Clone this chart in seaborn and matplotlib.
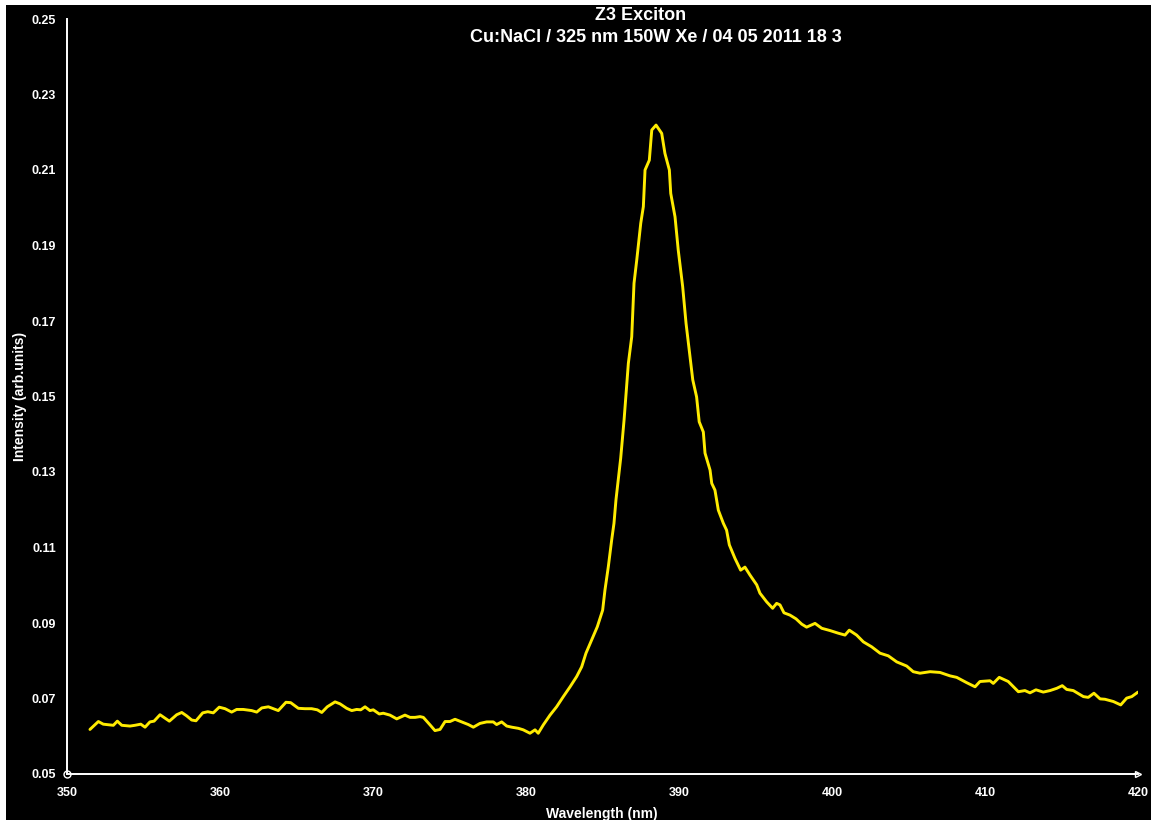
import seaborn as sns
import matplotlib.pyplot as plt
import matplotlib.patches as patches
import pandas as pd

# Espectro
comprimento_onda = [
    351.50, 352.05, 352.37, 353.03, 353.29, 353.58, 354.12, 354.44, 354.82, 355.10,
    355.42, 355.69, 356.08, 356.69, 357.17, 357.50, 357.82, 358.15, 358.43, 358.87,
    359.20, 359.56, 359.95, 360.33, 360.76, 361.09, 361.52, 362.07, 362.40, 362.73,
    363.16, 363.48, 363.81, 364.31, 364.62, 365.12, 365.56, 365.99, 366.36, 366.65,
    367.01, 367.52, 367.84, 368.28, 368.61, 368.93, 369.20, 369.48, 369.80, 370.02,
    370.41, 370.67, 371.11, 371.55, 372.09, 372.42, 372.75, 373.07, 373.29, 373.73,
    374.05, 374.38, 374.71, 375.03, 375.36, 375.80, 376.23, 376.56, 376.99, 377.43,
    377.86, 378.08, 378.41, 378.74, 379.07, 379.50, 379.82, 380.26, 380.59, 380.80,
    381.13, 381.57, 382.00, 382.44, 382.88, 383.31, 383.64, 383.92, 384.29, 384.66,
    385.01, 385.16, 385.38, 385.60, 385.75, 385.88, 386.03, 386.19, 386.41, 386.69,
    386.91, 387.06, 387.24, 387.50, 387.67, 387.78, 388.06, 388.22, 388.50, 388.87,
    389.08, 389.37, 389.46, 389.74, 389.95, 390.24, 390.46, 390.67, 390.90, 391.15,
    391.32, 391.59, 391.70, 392.03, 392.14, 392.35, 392.57, 392.90, 393.11, 393.29,
    393.66, 394.03, 394.31, 394.64, 395.08, 395.29, 395.73, 396.12, 396.38, 396.60,
    396.86, 397.25, 397.65, 398.02, 398.34, 398.89, 399.33, 399.87, 400.41, 400.85,
    401.13, 401.61, 402.05, 402.59, 403.14, 403.68, 404.23, 404.88, 405.31, 405.75,
    406.41, 407.06, 407.71, 408.15, 408.80, 409.35, 409.67, 410.33, 410.54, 410.93,
    411.52, 412.18, 412.61, 412.94, 413.33, 413.81, 414.25, 414.69, 415.05, 415.34,
    415.77, 416.43, 416.75, 417.12, 417.52, 417.84, 418.39, 418.87, 419.26, 419.59,
    420.00,
]
intensidade = [
    0.0618, 0.0639, 0.0632, 0.0629, 0.0640, 0.0629, 0.0627, 0.0629, 0.0632, 0.0624,
    0.0638, 0.0640, 0.0657, 0.0640, 0.0657, 0.0663, 0.0654, 0.0643, 0.0641, 0.0662,
    0.0665, 0.0662, 0.0677, 0.0673, 0.0664, 0.0671, 0.0671, 0.0668, 0.0664, 0.0675,
    0.0678, 0.0673, 0.0668, 0.0690, 0.0689, 0.0674, 0.0673, 0.0673, 0.0670, 0.0663,
    0.0678, 0.0691, 0.0686, 0.0674, 0.0668, 0.0671, 0.0670, 0.0678, 0.0668, 0.0670,
    0.0659, 0.0661, 0.0656, 0.0646, 0.0656, 0.0650, 0.0650, 0.0652, 0.0650, 0.0630,
    0.0615, 0.0618, 0.0639, 0.0639, 0.0645, 0.0638, 0.0631, 0.0624, 0.0634, 0.0638,
    0.0638, 0.0631, 0.0638, 0.0627, 0.0624, 0.0621, 0.0617, 0.0608, 0.0617, 0.0608,
    0.0630, 0.0656, 0.0678, 0.0705, 0.0731, 0.0758, 0.0784, 0.0820, 0.0855, 0.0890,
    0.0934, 0.0987, 0.1049, 0.1120, 0.1164, 0.1226, 0.1279, 0.1337, 0.1438, 0.1588,
    0.1658, 0.1800, 0.1862, 0.1959, 0.2003, 0.2100, 0.2126, 0.2206, 0.2219, 0.2197,
    0.2144, 0.2100, 0.2038, 0.1976, 0.1888, 0.1791, 0.1694, 0.1623, 0.1544, 0.1499,
    0.1433, 0.1406, 0.1350, 0.1305, 0.1270, 0.1252, 0.1199, 0.1164, 0.1146, 0.1107,
    0.1071, 0.1040, 0.1048, 0.1027, 0.1001, 0.0979, 0.0956, 0.0939, 0.0952, 0.0948,
    0.0927, 0.0921, 0.0911, 0.0897, 0.0889, 0.0899, 0.0886, 0.0880, 0.0873, 0.0868,
    0.0881, 0.0868, 0.0850, 0.0837, 0.0820, 0.0813, 0.0797, 0.0786, 0.0771, 0.0767,
    0.0771, 0.0769, 0.0760, 0.0756, 0.0742, 0.0731, 0.0745, 0.0747, 0.0740, 0.0756,
    0.0745, 0.0718, 0.0721, 0.0715, 0.0723, 0.0717, 0.0721, 0.0727, 0.0734, 0.0724,
    0.0721, 0.0705, 0.0703, 0.0714, 0.0699, 0.0698, 0.0692, 0.0683, 0.0701, 0.0705,
    0.0717,
]
ticks_x = [350, 360, 370, 380, 390, 400, 410, 420]
ticks_y = [0.05, 0.07, 0.09, 0.11, 0.13, 0.15, 0.17, 0.19, 0.21, 0.23, 0.25]

titulo = 'Z3 Exciton'
subtitulo = 'Cu:NaCl / 325 nm 150W Xe / 04 05 2011 18 3'

df = pd.DataFrame({'wl': comprimento_onda, 'int': intensidade})

sns.set_style('dark', {'axes.facecolor': 'black'})
plt.rcParams['font.family'] = ['Liberation Sans', 'DejaVu Sans']
plt.rcParams['font.weight'] = 'bold'

W, H = 1157, 824
fig = plt.figure(figsize=(W / 100, H / 100), dpi=100, facecolor='white')

# Fundo preto com borda branca fina
fig.patches.append(patches.Rectangle((6 / W, 1 - 820 / H), (1151 - 6) / W, (820 - 5) / H,
                                     transform=fig.transFigure, facecolor='black',
                                     edgecolor='none', zorder=-10))

ax = fig.add_axes([67 / W, 1 - 774 / H, (1138 - 67) / W, (774 - 19) / H])
ax.set_facecolor('black')

sns.lineplot(data=df, x='wl', y='int', ax=ax, color='#FFEB00', linewidth=2.1,
             estimator=None, sort=False)

ax.set_xlim(350, 420)
ax.set_ylim(0.05, 0.25)
ax.set_xticks(ticks_x)
ax.set_yticks(ticks_y)
ax.set_yticklabels([f'{v:.2f}' for v in ticks_y])
ax.grid(False)

for lado in ['top', 'right']:
    ax.spines[lado].set_visible(False)
for lado in ['left', 'bottom']:
    ax.spines[lado].set_color('white')
    ax.spines[lado].set_linewidth(1.4)

ax.tick_params(axis='y', colors='white', direction='out', length=3, width=1.2,
               labelsize=9, pad=5)
ax.tick_params(axis='x', colors='white', direction='in', length=3, width=1.2,
               labelsize=9, pad=9)
for lbl in ax.get_xticklabels() + ax.get_yticklabels():
    lbl.set_fontweight('bold')

# Marcadores nas pontas dos eixos
ax.plot([350], [0.05], marker='o', ms=5, mfc='none', mec='white', mew=1, clip_on=False)
ax.plot([420], [0.05], marker='>', ms=5, mfc='none', mec='white', mew=1, clip_on=False)

ax.set_xlabel('')
ax.set_ylabel('')
fig.text(602 / W, 1 - 814 / H, 'Wavelength (nm)', color='white', fontsize=10,
         fontweight='bold', ha='center', va='center')
fig.text(20 / W, 1 - 396 / H, 'Intensity (arb.units)', color='white', fontsize=10,
         fontweight='bold', ha='center', va='center', rotation=90)

fig.text(641 / W, 1 - 15 / H, titulo, color='white', fontsize=13,
         fontweight='bold', ha='center', va='center')
fig.text(656 / W, 1 - 38 / H, subtitulo, color='white', fontsize=13,
         fontweight='bold', ha='center', va='center')

fig.savefig('out.png', dpi=100, facecolor='white')
